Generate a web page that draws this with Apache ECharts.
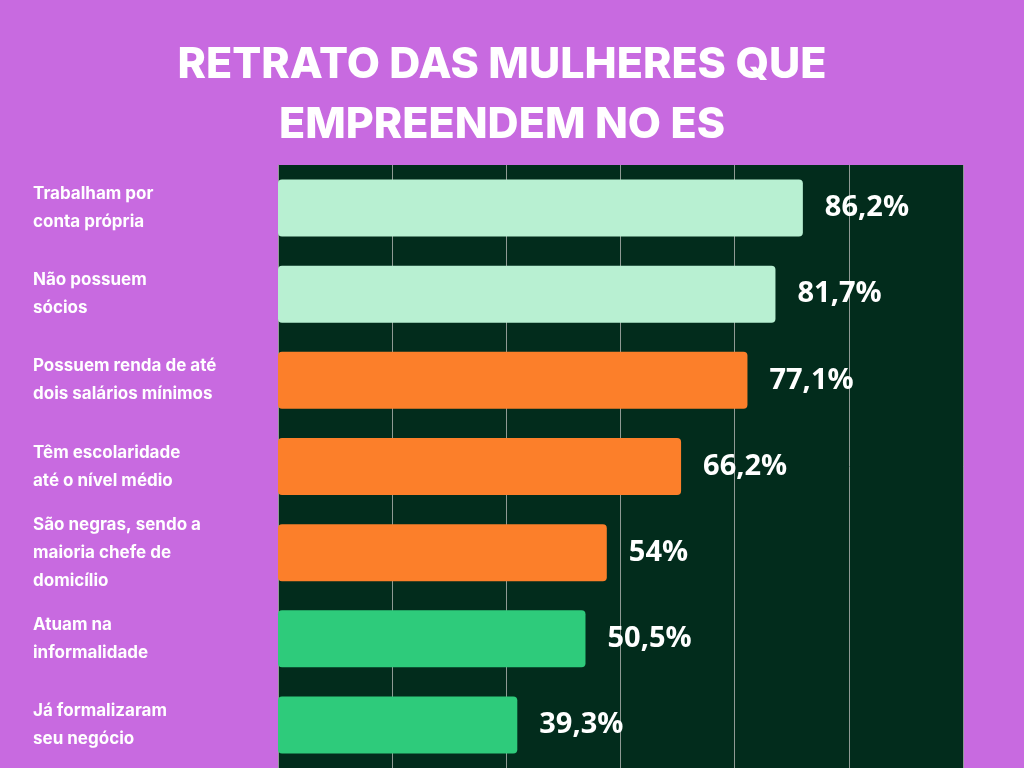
<!DOCTYPE html>
<html>
<head>
<meta charset="utf-8">
<script src="https://cdn.jsdelivr.net/npm/echarts@6/dist/echarts.min.js"></script>
<style>html,body{margin:0;padding:0;background:#c86ae0;}#chart{width:1024px;height:768px;}</style>
</head>
<body>
<div id="chart"></div>
<script>
var categories = [
    'Trabalham por\nconta própria',
    'Não possuem\nsócios',
    'Possuem renda de até\ndois salários mínimos',
    'Têm escolaridade\naté o nível médio',
    'São negras, sendo a\nmaioria chefe de\ndomicílio',
    'Atuam na\ninformalidade',
    'Já formalizaram\nseu negócio'
];
var values = [86.2, 81.7, 77.1, 66.2, 54, 50.5, 39.3];
var labels = ['86,2%', '81,7%', '77,1%', '66,2%', '54%', '50,5%', '39,3%'];
var colors = ['#b8f0d2', '#b8f0d2', '#fc7f2a', '#fc7f2a', '#fc7f2a', '#2ecb7b', '#2ecb7b'];

var myChart = echarts.init(document.getElementById('chart'));

var data = values.map(function (v, i) {
    return {value: v, itemStyle: {color: colors[i]}};
});

myChart.setOption({
    backgroundColor: '#c86ae0',
    title: {
        text: 'RETRATO DAS MULHERES QUE\nEMPREENDEM NO ES',
        left: 497,
        textAlign: 'center',
        top: 30,
        textStyle: {color: '#fff', fontSize: 43, fontWeight: 800, lineHeight: 60, fontFamily: 'Inter'}
    },
    grid: {left: 278, right: 61, top: 165, bottom: 0, show: true, backgroundColor: '#022c1c', borderWidth: 0},
    xAxis: {
        type: 'value', min: 0, max: 112.5, interval: 18.75,
        axisLabel: {show: false},
        axisLine: {show: false},
        axisTick: {show: false},
        splitLine: {show: true, lineStyle: {color: '#8f9a94', width: 1}}
    },
    yAxis: {
        type: 'category', inverse: true, data: categories,
        axisLine: {show: true, lineStyle: {color: '#8f9a94', width: 1}},
        axisTick: {show: false},
        axisLabel: {
            align: 'left', margin: 245, color: '#fff', fontSize: 17, fontWeight: 'bold',
            lineHeight: 28, fontFamily: 'Inter'
        }
    },
    series: [{
        type: 'bar',
        data: data,
        barWidth: 57,
        itemStyle: {borderRadius: 4},
        label: {
            show: true, position: 'right', distance: 22, color: '#fff', fontSize: 29, fontWeight: 'bold',
            fontFamily: 'Open Sans',
            formatter: function (p) { return labels[p.dataIndex]; }
        }
    }]
});
</script>
</body>
</html>
